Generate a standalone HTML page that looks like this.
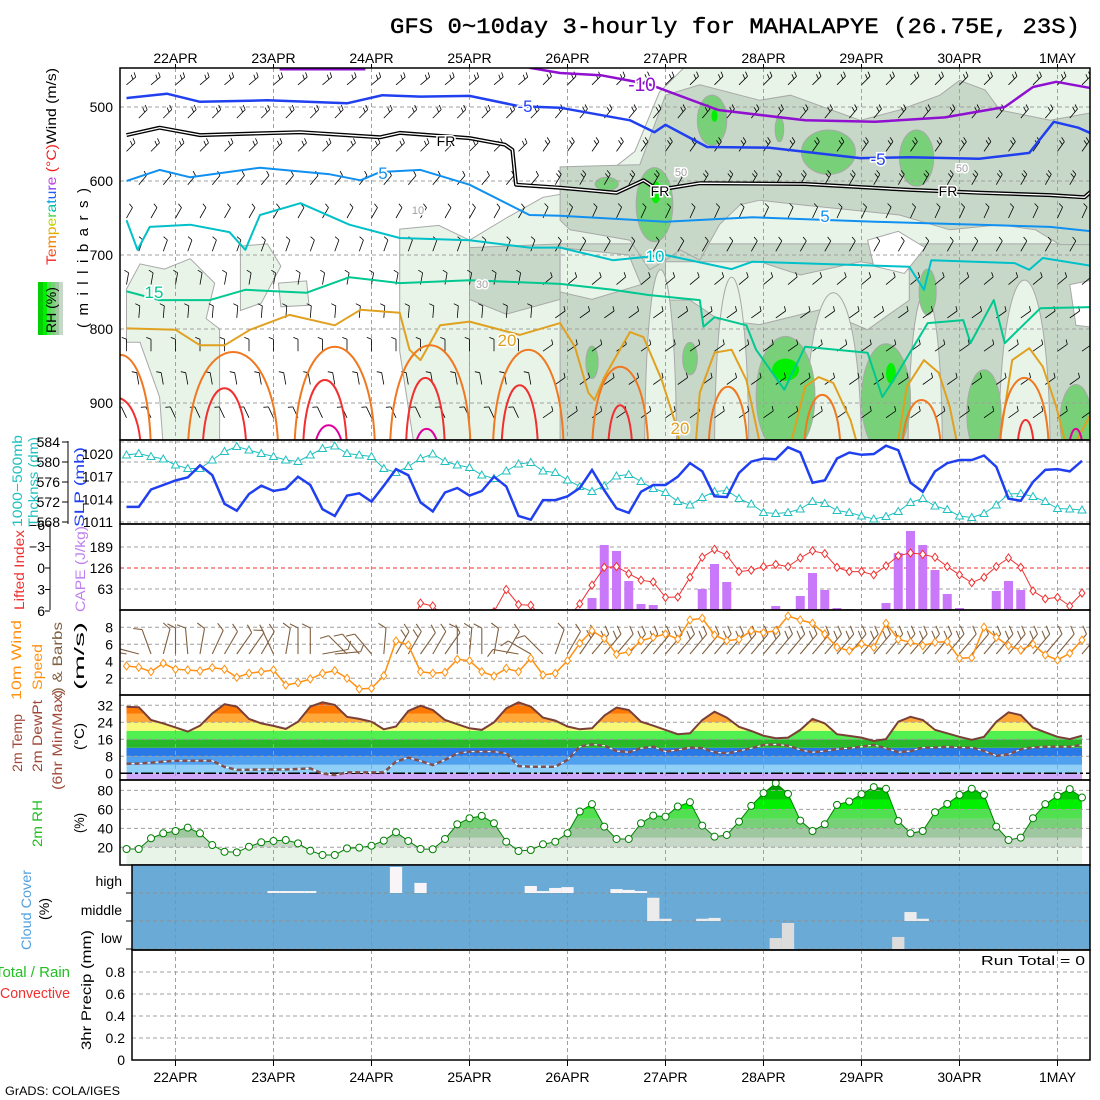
<!DOCTYPE html>
<html><head><meta charset="utf-8">
<style>
html,body{margin:0;padding:0;background:#fff;width:1100px;height:1100px;overflow:hidden}
svg{display:block;font-family:"Liberation Sans",sans-serif}
</style></head>
<body>
<svg id="chart" width="1100" height="1100" viewBox="0 0 1100 1100" xmlns="http://www.w3.org/2000/svg">
<defs>
<clipPath id="cTop"><rect x="120" y="68" width="970" height="372"/></clipPath>
<clipPath id="cSlp"><rect x="120" y="440" width="970" height="84"/></clipPath>
<clipPath id="cCape"><rect x="120" y="524" width="970" height="86"/></clipPath>
<clipPath id="cWind"><rect x="120" y="610" width="970" height="85"/></clipPath>
<clipPath id="cTemp"><rect x="120" y="695" width="970" height="85"/></clipPath>
<clipPath id="cRh"><rect x="120" y="780" width="970" height="85"/></clipPath>
<clipPath id="cLbl"><rect x="0" y="600" width="100" height="97"/></clipPath>
</defs>
<rect x="0" y="0" width="1100" height="1100" fill="#fff"/>
<text x="1080" y="33" text-anchor="end" font-family="Liberation Mono, monospace" font-size="22" textLength="690" lengthAdjust="spacingAndGlyphs" fill="#000" stroke="#000" stroke-width="0.4">GFS 0~10day 3-hourly for MAHALAPYE (26.75E, 23S)</text>

<g font-size="14">
<text transform="translate(56,265) rotate(-90)" textLength="197" lengthAdjust="spacingAndGlyphs"><tspan fill="#f02020">T</tspan><tspan fill="#f05020">e</tspan><tspan fill="#f08000">m</tspan><tspan fill="#e0b000">p</tspan><tspan fill="#c0d000">e</tspan><tspan fill="#40d040">r</tspan><tspan fill="#00c0a0">a</tspan><tspan fill="#00a0e0">t</tspan><tspan fill="#2060f0">u</tspan><tspan fill="#8040f0">r</tspan><tspan fill="#c040e0">e</tspan><tspan fill="#f02020"> (°C)</tspan><tspan fill="#000">Wind (m/s)</tspan></text>
<text transform="translate(88,328) rotate(-90)" font-size="15" textLength="140" lengthAdjust="spacing">(millibars)</text>
<g>
<rect x="38" y="282" width="5" height="53" fill="#00d000"/><rect x="43" y="282" width="4" height="53" fill="#00f000"/><rect x="47" y="282" width="4" height="53" fill="#50e050"/><rect x="51" y="282" width="4" height="53" fill="#78d078"/><rect x="55" y="282" width="4" height="53" fill="#a0c8a0"/><rect x="59" y="282" width="4" height="53" fill="#c8d8c8"/>
<text transform="translate(56,333) rotate(-90)" font-size="14" fill="#000">RH (%)</text>
</g>
<text transform="translate(22,527) rotate(-90)" fill="#20c0c0" textLength="92" lengthAdjust="spacingAndGlyphs">1000−500mb</text>
<text transform="translate(38,527) rotate(-90)" fill="#20c0c0" textLength="90" lengthAdjust="spacingAndGlyphs">Thcknss (dm)</text>
<text transform="translate(84,527) rotate(-90)" fill="#2040f0" textLength="80" lengthAdjust="spacingAndGlyphs">SLP (mb)</text>
<text transform="translate(24,610) rotate(-90)" fill="#f03030" textLength="80" lengthAdjust="spacingAndGlyphs">Lifted Index</text>
<text transform="translate(85,612) rotate(-90)" fill="#c080f0" textLength="86" lengthAdjust="spacingAndGlyphs">CAPE (J/kg)</text>
<text transform="translate(21,700) rotate(-90)" fill="#ff9010" textLength="80" lengthAdjust="spacingAndGlyphs">10m Wind</text>
<text transform="translate(42,690) rotate(-90)" fill="#ff9010" textLength="46" lengthAdjust="spacingAndGlyphs">Speed</text>
<g clip-path="url(#cLbl)"><text transform="translate(62,760) rotate(-90)" fill="#806040" textLength="138" lengthAdjust="spacingAndGlyphs">(6hr Max) &amp; Barbs</text></g>
<text transform="translate(84,690) rotate(-90)" fill="#000" textLength="68" lengthAdjust="spacingAndGlyphs">(m/s)</text>
<text transform="translate(22,772) rotate(-90)" fill="#a04838" textLength="58" lengthAdjust="spacingAndGlyphs">2m Temp</text>
<text transform="translate(42,772) rotate(-90)" fill="#a04838" textLength="72" lengthAdjust="spacingAndGlyphs">2m DewPt</text>
<text transform="translate(62,790) rotate(-90)" fill="#a04838" textLength="100" lengthAdjust="spacingAndGlyphs">(6hr Min/Max)</text>
<text transform="translate(84,750) rotate(-90)" fill="#000" textLength="27" lengthAdjust="spacingAndGlyphs">(°C)</text>
<text transform="translate(42,847) rotate(-90)" fill="#20c020" textLength="47" lengthAdjust="spacingAndGlyphs">2m RH</text>
<text transform="translate(84,833) rotate(-90)" fill="#000" textLength="20" lengthAdjust="spacingAndGlyphs">(%)</text>
<text transform="translate(31,950) rotate(-90)" fill="#50a0e0" textLength="80" lengthAdjust="spacingAndGlyphs">Cloud Cover</text>
<text transform="translate(49,920) rotate(-90)" fill="#000" textLength="22" lengthAdjust="spacingAndGlyphs">(%)</text>
<text x="70" y="977" text-anchor="end" fill="#20c020" font-size="15">Total / Rain</text>
<text x="70" y="998" text-anchor="end" fill="#f03030" font-size="15" textLength="70" lengthAdjust="spacingAndGlyphs">Convective</text>
<text transform="translate(91,1050) rotate(-90)" fill="#000" textLength="120" lengthAdjust="spacingAndGlyphs">3hr Precip (mm)</text>
<text x="122" y="886" text-anchor="end" fill="#000">high</text>
<text x="122" y="915" text-anchor="end" fill="#000">middle</text>
<text x="122" y="943" text-anchor="end" fill="#000">low</text>
<text x="1085" y="965" text-anchor="end" fill="#000" font-size="13" textLength="104" lengthAdjust="spacingAndGlyphs">Run Total = 0</text>
<text x="5" y="1095" fill="#000" font-size="12" textLength="115" lengthAdjust="spacingAndGlyphs">GrADS: COLA/IGES</text>
</g>
<g id="plot"></g>
</svg>
<script>
// ===== data =====
const dayLabels=["22APR","23APR","24APR","25APR","26APR","27APR","28APR","29APR","30APR","1MAY"];
const pressureTicks=[500,600,700,800,900];
const slp=[1013.0,1013.0,1015.3,1015.9,1016.5,1016.9,1018.5,1017.2,1013.4,1012.5,1014.7,1015.8,1015.1,1015.4,1017.0,1015.9,1012.7,1011.8,1014.5,1014.8,1013.7,1015.8,1018.0,1017.2,1013.6,1012.4,1014.9,1015.5,1014.5,1015.1,1017.0,1015.7,1011.8,1011.3,1013.9,1013.9,1014.4,1015.5,1017.9,
1015.2,1012.8,1012.2,1015.0,1015.9,1015.9,1017.0,1018.8,1017.7,1014.4,1014.3,1017.5,1019.0,1019.4,1019.3,1020.9,1020.2,1016.2,1016.5,1019.4,1020.2,1019.9,1020.0,1021.1,1020.5,1016.2,1015.0,1017.7,1018.8,1019.2,1019.2,1019.8,1018.3,1014.1,1013.8,1016.3,1017.9,1018.0,1017.7,1019.1];
const thick=[581.4,581.7,581.1,580.6,579.4,578.7,578.7,580.4,582.1,583.1,582.4,581.7,581.1,580.4,580.1,581.4,582.7,583.2,581.7,581.4,581.1,578.7,577.9,579.1,580.7,581.6,580.1,579.4,578.9,577.4,576.7,578.2,579.6,579.9,578.2,577.9,576.4,575.1,574.1,
575.2,577.2,577.5,576.1,574.7,573.9,572.1,571.4,572.9,574.1,574.3,572.7,571.6,569.9,569.7,569.9,570.6,572.1,571.7,570.3,569.9,569.2,568.6,569.1,570.1,571.9,572.7,571.2,570.5,569.2,568.9,569.7,571.4,573.6,573.7,573.1,572.1,570.7,570.6,570.4];
const slpTicks=[1011,1014,1017,1020];
const thickTicks=[568,572,576,580,584];
const liIndex=[9,9,9,9,9,9,9,9,9,9,9,9,9,9,9,9,9,9,9,9,9,9,9,9,4.9,5.3,7,8,7,7,6.1,3.0,5.1,5.2,7,8,7,5.0,2.4,-0.1,-0.2,0.8,1.7,1.95,4.1,4.05,1.3,-1.5,-2.6,-1.8,0.5,0.3,-0.2,-0.5,-0.2,-1.4,-2.4,-2.0,-0.1,0.5,0.5,0.95,-0.3,-1.7,-2.1,-1.9,-1.5,-0.2,0.95,2.05,1.3,-0.2,-1.4,-0.1,3.2,4.3,4.1,5.3,3.5];
const cape=[0,0,0,0,0,0,0,0,0,0,0,0,0,0,0,0,0,0,0,0,0,0,0,0,0,0,0,0,0,0,0,0,0,0,0,0,0,3,36,195,177,87,18,15,0,0,0,63,138,84,0,0,0,12,0,42,111,60,6,3,0,0,21,171,237,195,120,48,6,0,0,57,87,60,0,0,0,0,0];
const liTicks=[-6,-3,0,3,6];
const capeTicks=[63,126,189];
const wind10=[3.45,3.29,2.78,3.76,3.06,2.98,2.86,3.25,3.06,2.12,2.59,2.78,2.98,1.21,1.48,1.92,2.59,2.90,2.0,0.74,0.82,2.31,6.39,5.92,2.78,2.59,2.70,4.23,4.07,2.78,2.27,3.17,2.78,4.35,2.39,2.59,4.07,6.12,7.60,
6.7,4.82,5.13,6.42,6.82,7.21,6.62,8.86,9.06,7.09,6.42,6.59,7.60,7.37,7.60,9.33,8.86,8.47,7.21,5.65,5.25,6.04,5.65,8.47,6.59,6.24,5.84,6.24,6.31,4.35,4.43,8.01,6.82,5.84,5.33,6.0,4.74,4.15,4.94,6.5];
const barb10Angle=[-80,-75,-20,15,0,-5,10,25,30,35,35,30,-25,10,0,0,80,85,-45,-40,-40,5,30,30,35,30,35,0,5,0,10,30,-80,-60,-45,20,30,35,40,
40,40,40,40,40,40,40,40,40,40,40,40,40,40,40,40,40,40,40,40,40,40,40,40,40,40,40,40,40,40,40,40,40,40,40,40,40,40,40,40];
const windTicks=[2,4,6,8];
const temp2m=[31.3,31.1,25.1,23.5,21.6,19.6,22.4,28.2,32.5,31.4,25.6,23.5,22.3,20.9,24.3,31.4,33.4,32.2,26.6,25.6,24.3,20.7,22.0,29.3,31.8,29.8,25.1,23.1,21.2,20.4,24.0,30.6,33.4,31.4,26.2,24.8,22.0,20.7,21.2,
27.1,30.9,29.8,24.3,22.4,20.4,18.4,18.8,25.1,29.0,26.2,21.9,19.9,17.7,16.5,16.8,20.4,25.6,23.5,18.4,17.6,16.8,15.2,16.1,24.3,26.6,25.1,20.4,18.8,17.2,15.7,17.2,24.3,28.7,27.4,21.5,19.3,17.2,16.1,17.7];
const dew2m=[4.5,4.6,5.0,5.5,5.9,5.9,5.9,5.9,3.0,1.6,1.7,1.8,1.8,1.8,2.0,2.3,-0.1,-0.8,0.4,0.4,0.4,0.4,5.5,7.4,5.8,3.9,6.3,9.4,10.2,10.2,10.2,9.4,3.4,3.1,3.1,3.1,6.3,12.5,13.6,13.0,
10.5,9.9,11.8,12.5,10.2,11.0,12.1,11.8,9.9,9.4,10.5,11.8,13.3,13.6,13.0,11.0,9.9,10.5,11.4,11.8,12.5,13.3,11.8,9.9,10.5,12.1,12.1,12.5,12.1,12.1,10.5,8.3,8.9,11.3,12.1,12.5,12.5,12.5,13.3];
const tempTicks=[0,8,16,24,32];
const rh2m=[18.2,18.2,29.5,34.8,37.2,40.7,34.8,22.4,15.3,14.7,20.6,25.3,26.7,27.7,24.2,16.4,11.9,11.9,18.9,19.6,21.7,27.0,35.9,26.7,18.2,17.9,28.8,44.3,50.7,53.1,45.4,25.9,16.1,17.1,23.2,25.9,34.8,57.7,65.5,41.8,
28.8,28.8,45.4,53.4,52.4,63.0,67.6,42.9,31.2,33.0,47.1,63.7,77.1,87.7,76.4,48.2,37.2,44.3,64.8,68.3,76.1,83.5,81.7,47.8,34.8,37.2,57.0,65.8,75.3,81.7,75.3,41.8,27.7,30.2,50.7,65.5,74.3,81.4,72.5];
const rhTicks=[20,40,60,80];
const cloudHigh=[0,0,0,0,0,0,0,0,0,0,0,0,7,7,7,7,0,0,0,0,0,0,93,0,36,0,0,0,0,0,0,0,0,25,7,18,21,0,0,0,14,11,7,0,0,0,0,0,0,0,0,0,0,0,0,0,0,0,0,0,0,0,0,0,0,0,0,0,0,0,0,0,0,0,0,0,0,0,0];
const cloudMid=[0,0,0,0,0,0,0,0,0,0,0,0,0,0,0,0,0,0,0,0,0,0,0,0,0,0,0,0,0,0,0,0,0,0,0,0,0,0,0,0,0,0,0,83,8,0,0,8,11,0,0,0,0,0,0,0,0,0,0,0,0,0,0,0,32,8,0,0,0,0,0,0,0,0,0,0,0,0,0];
const cloudLow=[0,0,0,0,0,0,0,0,0,0,0,0,0,0,0,0,0,0,0,0,0,0,0,0,0,0,0,0,0,0,0,0,0,0,0,0,0,0,0,0,0,0,0,0,0,0,0,0,0,0,0,0,0,39,93,0,0,0,0,0,0,0,0,43,0,0,0,0,0,0,0,0,0,0,0,0,0,0,0];
const precip=[0,0,0,0,0,0,0,0,0,0,0,0,0,0,0,0,0,0,0,0,0,0,0,0,0,0,0,0,0,0,0,0,0,0,0,0,0,0,0,0,0,0,0,0,0,0,0,0,0,0,0,0,0,0,0,0,0,0,0,0,0,0,0,0,0,0,0,0,0,0,0,0,0,0,0,0,0,0,0];
const precipTicks=[0,0.2,0.4,0.6,0.8];
const isoM10a=[[12.5,449],[19.5,449]];
const isoM10b=[[32.9,447],[35.4,454],[38.7,457],[42.6,469],[48.3,504],[55.4,518],[61.1,520],[66.8,514],[71.7,500],[74,473],[75.9,466],[78.6,474],[80,478]];
const isoM5=[[0,488],[3.3,482],[6,493],[11.5,491],[18,495],[20.9,484],[24,486],[28,485],[32.1,499],[35.4,501],[41.1,518],[43.1,534],[44,524],[47.4,554],[52.5,555],[59.9,569],[63.9,568],[69.6,570],[73.7,562],[75.7,520],[77.7,528],[80,545]];
const isoFR=[[0,538],[2.7,528],[6,538],[14.2,534],[20.7,541],[22.3,535],[28,542],[30.9,551],[31.5,558],[31.8,605],[35.4,609],[40,616],[42.2,599],[43.4,612],[46.8,603],[55.4,604],[64,612],[69.7,616],[75.4,619],[78.2,622],[79.5,603]];
const iso5=[[0,600],[2.7,585],[5.2,595],[10.9,582],[16.6,591],[19.1,599],[20.7,588],[24,585],[28,605],[32.9,646],[35.4,647],[44,655],[51.1,649],[61.1,655],[69.6,659],[75.4,662],[80,670]];
const iso10=[[0,653],[0.9,693],[1.9,662],[5.2,659],[8.4,669],[9.7,693],[10.9,646],[14.2,630],[18.2,659],[22.3,677],[28,680],[32.9,690],[35.4,690],[39.7,707],[44,700],[49.4,719],[51.1,709],[63.9,716],[65.1,747],[65.7,707],[72.5,711],[73.7,720],[74.8,704],[80,718]];
const iso15=[[0,749],[2.7,761],[6.8,761],[9.7,747],[14.7,751],[18.2,730],[22.3,738],[28,734],[35.4,739],[39.7,747],[42.6,754],[46.8,761],[47.1,797],[48,784],[50.6,795],[51.4,828],[53.7,882],[55.4,824],[60.5,832],[61.7,892],[62.6,869],[65.4,792],[68.3,788],[68.9,819],[70.8,761],[71.7,819],[74.6,772],[80,770]];
const iso20=[[0,799],[4,801],[6,822],[8,822],[10.1,801],[13.3,781],[17,795],[19.1,774],[22.3,778],[23.1,828],[24,842],[25.6,795],[28,790],[32.1,808],[35.4,792],[36.6,824],[37.7,886],[38.2,896],[39,865],[41.1,804],[42.2,811],[43.7,869],[44.9,932],[45.3,970],[46.4,970],[46.8,886],[48,832],[49.4,828],[50.6,869],[51.9,970],[54,970],[55.4,878],[56.5,865],[57.7,873],[59.1,923],[59.9,970],[62.8,970],[63.7,878],[65.1,842],[66.3,859],[67.2,905],[68,970],[71.1,970],[72.3,842],[73.7,826],[74.8,851],[75.9,905],[76.9,970],[78.8,913],[80,890]];
const iso25=[[-0.5,835,2.5],[8.7,831,3.7],[17,824,3.3],[24.8,822,3.3],[32.8,828,2.9],[40.3,851,2.3],[49.1,878,1.6],[56.8,889,1.5],[64.9,896,1.6],[73.3,866,2]];
const iso30=[[-0.8,893,2],[8,880,1.8],[16.2,869,1.8],[24.4,866,1.6],[32.1,876,1.5],[40.3,903,1],[73.4,923,0.7]];
const iso35=[[16.5,930,1.2],[24.5,935,1],[77.5,935,0.6]];
const rhLight1=[[0,746],[1.1,712],[3.1,719],[5.2,705],[7.2,738],[6.5,786],[7.6,800],[7.6,960],[3,960],[2.7,892],[1.1,818],[0,818]];
const rhLight2=[[9.3,688],[11.5,685],[12.6,715],[11,765],[9.3,775]];
const rhLight3=[[12.4,738],[14.7,735],[14.9,768],[12.6,770]];
const rhLight4=[[22.3,665],[25.5,660],[28,680],[28,960],[23.5,960],[22.3,830]];
const rhLight5=[[28,680],[31,650],[34,622],[37.5,612],[41.5,560],[43.5,480],[45.5,447],[80,447],[80,960],[28,960]];
const rhGray1=[[35.4,581],[41.9,578],[44,484],[46.8,470],[51.7,491],[54.2,484],[59.9,518],[63.1,504],[66.4,484],[68,464],[70.1,477],[71.3,504],[75.4,518],[80,504],[80,686],[76.2,686],[74.2,666],[71.3,659],[67.2,666],[63.1,646],[59.1,639],[55,632],[51.7,626],[50.1,632],[48.4,659],[46.8,707],[45.2,693],[44,707],[42.7,720],[41.1,680],[38.7,673],[36.2,666],[35.4,653]];
const rhGray2=[[35.4,685],[80,685],[80,960],[35.4,960]];
const rhGray3=[[28,690],[35.4,685],[35.4,760],[31,780],[28,760]];
const rhLightMid=[[44,709],[51.7,709],[55,727],[59.9,709],[63.9,720],[63.9,761],[60.5,801],[56.6,774],[51.7,794],[48.4,788],[46,761],[44,761]];
const rhLightMid2=[[35.4,690],[41,700],[42,740],[38,760],[35.4,750]];
const rhLightArches=[[43.6,720,1.3],[49.4,730,1.4],[57.7,751,2.3],[65.2,751,1.4],[73.3,734,2.1]];
const rhWhite1=[[60.5,680],[63,668],[65.2,690],[63.5,725],[61,715]];
const rhWhite2=[[77,740],[80,730],[80,800],[77.5,795]];
const rhGreen=[[47.8,518,1.2,34],[53.3,530,0.35,17],[57.3,561,2.2,30],[64.5,569,1.4,38],[39.2,604,0.95,9],[43.1,632,1.5,50],[38,845,0.5,22],[46,840,0.6,22],[53.8,890,2.4,80],[62,895,2,75],[65.4,750,0.7,31],[70,915,1.4,60],[77.5,925,1.3,50]];
const rhBright=[[53.8,855,1.1,15],[62.4,860,0.4,14],[43.2,615,0.4,15],[48,512,0.25,8]];
const barbRowsP=[470,515,560,605,650,695,740,785,830,875,920];
const barbDirEarly=[50,45,45,40,30,20,10,5,0,-10,-25];
const barbDirLate=[45,40,35,30,25,30,50,55,55,55,55];
const barbTicksEarly=[2,2,2,1,1,1,1,1,1,1,1];
const barbTicksLate=[2,2,2,2,1,1,1,1,1,1,1];

// ===== scales =====
const NS='http://www.w3.org/2000/svg';
const plot=document.getElementById('plot');
function X(i){return 126.5+12.25*i;}
function dayX(d){return 175.5+98*d;}
function Yp(p){return 107+(p-500)*0.74;}
function Ys(v){return 522-(v-1011)*7.556;}
function Yt(v){return 522-(v-568)*5;}
function Yli(v){return 568+v*7.17;}
function Yc(v){return 610-v/3;}
function Yw(v){return 695.3-v*8.5;}
function YT(v){return 773.3-v*2.125;}
function Yr(v){return 847.3-(v-20)*0.948;}
function Ypr(v){return 1060-v*110;}
function mk(tag,parent,attrs){const e=document.createElementNS(NS,tag);for(const k in attrs)e.setAttribute(k,attrs[k]);parent.appendChild(e);return e;}
function txt(parent,x,y,s,attrs){const t=mk('text',parent,Object.assign({x:x,y:y,'font-size':14,fill:'#000'},attrs||{}));t.textContent=s;return t;}
function poly(pts){return pts.map((q,k)=>(k?'L':'M')+X(q[0]).toFixed(1)+' '+Yp(q[1]).toFixed(1)).join(' ');}
function linePath(arr,fy){return arr.map((v,i)=>(i?'L':'M')+X(i).toFixed(1)+' '+fy(v).toFixed(1)).join(' ');}
function arch(t,p,hw){const yb=Yp(975),yt=Yp(p),cy=yb+(yt-yb)/0.75;return 'M'+X(t-hw)+' '+yb+' C'+X(t-hw)+' '+cy+' '+X(t+hw)+' '+cy+' '+X(t+hw)+' '+yb+' Z';}
function hgrid(parent,y,x0,x1,col){return mk('line',parent,{x1:x0,x2:x1,y1:y,y2:y,stroke:col||'#a0a0a0','stroke-width':1,'stroke-dasharray':'4,3'});}
function vgrids(parent,y0,y1){for(let d=0;d<dayLabels.length;d++){const l=mk('line',parent,{x1:dayX(d),x2:dayX(d),y1:y0,y2:y1,stroke:'#a0a0a0','stroke-width':1,'stroke-dasharray':'4,3'});

}}
function frame(x,y,w,h,name){const r=mk('rect',plot,{x:x,y:y,width:w,height:h,fill:'none',stroke:'#000','stroke-width':1.5});

}

for(let d=0;d<dayLabels.length;d++){
 const a=txt(plot,dayX(d),63,dayLabels[d],{'text-anchor':'middle'});
 
 
 const b=txt(plot,dayX(d),1082,dayLabels[d],{'text-anchor':'middle'});
 
 
 mk('line',plot,{x1:dayX(d),x2:dayX(d),y1:64,y2:70,stroke:'#000'});
}

// ===== top panel =====
const gTop=mk('g',plot,{'clip-path':'url(#cTop)'});


function shade(pts,fill,name){const e=mk('path',gTop,{d:poly(pts)+' Z',fill:fill,stroke:'#a8a8a8','stroke-width':1});

}
shade(rhLight5,'#e8f4e8','rh-shade-light');
shade(rhLight1,'#e8f4e8','rh-shade-light');
shade(rhLight2,'#e8f4e8','rh-shade-light');
shade(rhLight3,'#e8f4e8','rh-shade-light');
shade(rhLight4,'#e8f4e8','rh-shade-light');
shade(rhGray2,'#c8d8c8','rh-shade-gray');
shade(rhGray1,'#c8d8c8','rh-shade-gray');
shade(rhGray3,'#c8d8c8','rh-shade-gray');
shade(rhLightMid,'#e8f4e8','rh-shade-light');
shade(rhLightMid2,'#e8f4e8','rh-shade-light');
rhLightArches.forEach(a=>{const e=mk('path',gTop,{d:arch(a[0],a[1],a[2]),fill:'#e8f4e8',stroke:'#a8a8a8','stroke-width':1});

});
shade(rhWhite1,'#ffffff','rh-clear-area');
shade(rhWhite2,'#ffffff','rh-clear-area');
rhGreen.forEach(b=>{const e=mk('ellipse',gTop,{cx:X(b[0]),cy:Yp(b[1]),rx:b[2]*12.25,ry:b[3]*0.74,fill:'#78d078',stroke:'#a8a8a8','stroke-width':1});

});
rhBright.forEach(b=>{const e=mk('ellipse',gTop,{cx:X(b[0]),cy:Yp(b[1]),rx:b[2]*12.25,ry:b[3]*0.74,fill:'#00f000'});

});
pressureTicks.forEach(p=>{const l=hgrid(gTop,Yp(p),120,1090);


const t=txt(plot,113,Yp(p)+5,String(p),{'text-anchor':'end'});

});
vgrids(gTop,68,440);
barbRowsP.forEach((p,r)=>{
 for(let i=(r%2);i<79;i+=2){
  const late=i>=34;
  const a=(late?barbDirLate[r]:barbDirEarly[r])*Math.PI/180;
  const nt=late?barbTicksLate[r]:barbTicksEarly[r];
  const x0=X(i),y0=Yp(p),L=12;
  const x1=x0+L*Math.sin(a),y1=y0-L*Math.cos(a);
  let d='M'+x0.toFixed(1)+' '+y0.toFixed(1)+' L'+x1.toFixed(1)+' '+y1.toFixed(1);
  for(let k=0;k<nt;k++){const f=1-k*0.3;const bx=x0+L*f*Math.sin(a),by=y0-L*f*Math.cos(a);const ta=a-1.2;d+=' M'+bx.toFixed(1)+' '+by.toFixed(1)+' L'+(bx+5*Math.sin(ta)).toFixed(1)+' '+(by-5*Math.cos(ta)).toFixed(1);}
  const b=mk('path',gTop,{d:d,stroke:'#000','stroke-width':0.8,fill:'none'});
  
  
 }
});
function iso(pts,col,w,name){const e=mk('path',gTop,{d:poly(pts),fill:'none',stroke:col,'stroke-width':w,'stroke-linejoin':'round'});

return e;}
iso(isoM10a,'#9010d0',2.5,'isotherm-minus10');
iso(isoM10b,'#9010d0',2.5,'isotherm-minus10');
iso(isoM5,'#2040f0',2.5,'isotherm-minus5');
iso(isoFR,'#000',4,'freezing-level');
iso(isoFR,'#fff',1.3,'freezing-level-inner');
iso(iso5,'#1090f0',2,'isotherm-5');
iso(iso10,'#00c0c8',2,'isotherm-10');
iso(iso15,'#00c890',2,'isotherm-15');
iso(iso20,'#e0a020',2,'isotherm-20');
iso25.forEach(a=>{const e=mk('path',gTop,{d:arch(a[0],a[1],a[2]),fill:'none',stroke:'#f07820','stroke-width':2});

});
iso30.forEach(a=>{const e=mk('path',gTop,{d:arch(a[0],a[1],a[2]),fill:'none',stroke:'#f03030','stroke-width':2});

});
iso35.forEach(a=>{const e=mk('path',gTop,{d:arch(a[0],a[1],a[2]),fill:'none',stroke:'#e000a0','stroke-width':2});

});
function clab(x,y,s,col,fs){const t=txt(gTop,x,y,s,{fill:col,'font-size':fs,'text-anchor':'middle',stroke:'#fff','stroke-width':3,'paint-order':'stroke'});

}
clab(642,91,'-10','#9010d0',19);clab(525,112,'-5','#2040f0',17);clab(878,165,'-5','#2040f0',17);
clab(446,146,'FR','#000',14);clab(660,196,'FR','#000',14);clab(948,196,'FR','#000',14);
clab(383,179,'5','#1090f0',17);clab(825,222,'5','#1090f0',17);clab(655,262,'10','#00c0c8',17);
clab(154,298,'15','#00c890',17);clab(507,346,'20','#e0a020',17);clab(680,434,'20','#e0a020',17);
clab(681,176,'50','#a0a0a0',11);clab(962,172,'50','#a0a0a0',11);clab(482,288,'30','#a0a0a0',11);clab(418,214,'10','#a0a0a0',11);
frame(120,68,970,372,'upper-air-frame');

// ===== SLP / thickness =====
const gS=mk('g',plot,{'clip-path':'url(#cSlp)'});


thickTicks.forEach(v=>{const l=hgrid(gS,Yt(v),120,1090);


const t=txt(plot,60,Yt(v)+5,String(v),{'text-anchor':'end'});


mk('line',plot,{x1:62,x2:68,y1:Yt(v),y2:Yt(v),stroke:'#000'});});
mk('line',plot,{x1:68,x2:68,y1:441,y2:524,stroke:'#000'});
slpTicks.forEach(v=>{const t=txt(plot,113,Ys(v)+5,String(v),{'text-anchor':'end'});

});
vgrids(gS,440,524);
const thL=mk('path',gS,{d:linePath(thick,Yt),fill:'none',stroke:'#20c0c0','stroke-width':1});


thick.forEach((v,i)=>{const x=X(i),y=Yt(v);const m=mk('path',gS,{d:'M'+x+' '+(y-4)+' L'+(x+4)+' '+(y+3)+' L'+(x-4)+' '+(y+3)+' Z',fill:'#fff',stroke:'#20c0c0','stroke-width':1});

});
const slL=mk('path',gS,{d:linePath(slp,Ys),fill:'none',stroke:'#2040f0','stroke-width':2.5});


frame(120,440,970,84,'slp-frame');

// ===== CAPE / LI =====
const gC=mk('g',plot,{'clip-path':'url(#cCape)'});


capeTicks.forEach(v=>{if(v!==126){const l=hgrid(gC,Yc(v),120,1090);

}
const t=txt(plot,113,Yc(v)+5,String(v),{'text-anchor':'end'});

});
const zl=hgrid(gC,Yli(0),120,1090,'#f03030');


liTicks.forEach(v=>{const t=txt(plot,45,Yli(v)+5,String(v).replace('-','−'),{'text-anchor':'end'});


mk('line',plot,{x1:45,x2:50,y1:Yli(v),y2:Yli(v),stroke:'#000'});});
mk('line',plot,{x1:50,x2:50,y1:524,y2:610,stroke:'#000'});
vgrids(gC,524,610);
cape.forEach((v,i)=>{if(v>0){const r=mk('rect',gC,{x:X(i)-4.5,y:Yc(v),width:9,height:610-Yc(v),fill:'#c878f8'});

}});
const liL=mk('path',gC,{d:linePath(liIndex,Yli),fill:'none',stroke:'#f03030','stroke-width':1});


liIndex.forEach((v,i)=>{if(v<=6.2){const x=X(i),y=Yli(v);const m=mk('path',gC,{d:'M'+x+' '+(y-4)+' L'+(x+3)+' '+y+' L'+x+' '+(y+4)+' L'+(x-3)+' '+y+' Z',fill:'#fff',stroke:'#f03030','stroke-width':1});

}});
frame(120,524,970,86,'cape-frame');

// ===== 10m wind =====
const gW=mk('g',plot,{'clip-path':'url(#cWind)'});


windTicks.forEach(v=>{const l=hgrid(gW,Yw(v),120,1090);


const t=txt(plot,113,Yw(v)+5,String(v),{'text-anchor':'end'});

});
vgrids(gW,610,695);
barb10Angle.forEach((ang,i)=>{
 const a=ang*Math.PI/180,x0=X(i),y0=654,L=26;
 const x1=x0+L*Math.sin(a),y1=y0-L*Math.cos(a);
 const nt=wind10[i]>5?2:1;
 let d='M'+x0.toFixed(1)+' '+y0+' L'+x1.toFixed(1)+' '+y1.toFixed(1);
 for(let k=0;k<nt;k++){const f=1-k*0.25;const bx=x0+L*f*Math.sin(a),by=y0-L*f*Math.cos(a),ta=a-1.1;d+=' M'+bx.toFixed(1)+' '+by.toFixed(1)+' L'+(bx+9*Math.sin(ta)).toFixed(1)+' '+(by-9*Math.cos(ta)).toFixed(1);}
 const b=mk('path',gW,{d:d,stroke:'#806040','stroke-width':1.1,fill:'none'});
 
 
});
const wL=mk('path',gW,{d:linePath(wind10,Yw),fill:'none',stroke:'#ff9010','stroke-width':1.5});


wind10.forEach((v,i)=>{const x=X(i),y=Yw(v);const m=mk('path',gW,{d:'M'+x+' '+(y-4)+' L'+(x+3)+' '+y+' L'+x+' '+(y+4)+' L'+(x-3)+' '+y+' Z',fill:'#fff',stroke:'#ff9010','stroke-width':1});

});
frame(120,610,970,85,'wind-frame');

// ===== temperature =====
const gT=mk('g',plot,{'clip-path':'url(#cTemp)'});


const defs=document.querySelector('defs');
const cpT=mk('clipPath',defs,{id:'cTempArea'});
mk('path',cpT,{d:'M'+X(0)+' 780 '+temp2m.map((v,i)=>'L'+X(i).toFixed(1)+' '+YT(v).toFixed(1)).join(' ')+' L'+X(78)+' 780 Z'});
const tBands=[[-10,0,'#d0a8f8'],[0,4,'#90d0f8'],[4,8,'#50a0f0'],[8,12,'#2878e8'],[12,16,'#28b828'],[16,20,'#50f050'],[20,24,'#f8f878'],[24,28,'#ffa838'],[28,32,'#ff7800'],[32,45,'#ff5000']];
const gTB=mk('g',gT,{'clip-path':'url(#cTempArea)'});
tBands.forEach(b=>{const r=mk('rect',gTB,{x:120,y:YT(b[1]),width:970,height:YT(b[0])-YT(b[1]),fill:b[2]});

});
tempTicks.forEach(v=>{if(v>0){const l=hgrid(gT,YT(v),120,1090);

}
const t=txt(plot,113,YT(v)+5,String(v),{'text-anchor':'end'});

});
const z0=mk('line',gT,{x1:120,x2:1090,y1:YT(0),y2:YT(0),stroke:'#000','stroke-width':1.5,'stroke-dasharray':'12,3,3,3'});


vgrids(gT,695,780);
mk('path',gT,{d:linePath(dew2m,YT),fill:'none',stroke:'#fff','stroke-width':1});
const dL=mk('path',gT,{d:linePath(dew2m,YT),fill:'none',stroke:'#805050','stroke-width':2.5,'stroke-dasharray':'5,3'});


const tL=mk('path',gT,{d:linePath(temp2m,YT),fill:'none',stroke:'#7a4038','stroke-width':2});


frame(120,695,970,85,'temp-frame');

// ===== RH =====
const gR=mk('g',plot,{'clip-path':'url(#cRh)'});


const cpR=mk('clipPath',defs,{id:'cRhArea'});
mk('path',cpR,{d:'M'+X(0)+' 865 '+rh2m.map((v,i)=>'L'+X(i).toFixed(1)+' '+Yr(v).toFixed(1)).join(' ')+' L'+X(78)+' 865 Z'});
const rBands=[[0,20,'#e8f4e8'],[20,30,'#c8d8c8'],[30,40,'#a0c8a0'],[40,50,'#78d078'],[50,60,'#50e050'],[60,70,'#00f000'],[70,80,'#00c800'],[80,100,'#00a000']];
const gRB=mk('g',gR,{'clip-path':'url(#cRhArea)'});
rBands.forEach(b=>{const r=mk('rect',gRB,{x:120,y:Yr(b[1]),width:970,height:Yr(b[0])-Yr(b[1]),fill:b[2]});

});
rhTicks.forEach(v=>{const l=hgrid(gR,Yr(v),120,1090);


const t=txt(plot,113,Yr(v)+5,String(v),{'text-anchor':'end'});

});
vgrids(gR,780,865);
const rL=mk('path',gR,{d:linePath(rh2m,Yr),fill:'none',stroke:'#008000','stroke-width':1});


rh2m.forEach((v,i)=>{const c=mk('circle',gR,{cx:X(i),cy:Yr(v),r:3.5,fill:'#fff',stroke:'#008000','stroke-width':1});

});
frame(120,780,970,85,'rh-frame');

// ===== cloud =====
const cbg=mk('rect',plot,{x:132,y:865,width:958,height:85,fill:'#6aaad6'});


[893,921,949].forEach(y=>{const l=hgrid(plot,y,132,1090,'#909090');


mk('line',plot,{x1:126,x2:132,y1:y,y2:y,stroke:'#000'});});
for(let d=0;d<dayLabels.length;d++){const l=mk('line',plot,{x1:dayX(d),x2:dayX(d),y1:865,y2:950,stroke:'#909090','stroke-dasharray':'4,3'});

}
function cloudBars(arr,base,col,name){arr.forEach((v,i)=>{if(v>0){const h=v/100*28;const r=mk('rect',plot,{x:X(i)-6.1,y:base-h,width:12.25,height:h,fill:col});

}});}
cloudBars(cloudHigh,893,'#f8f4f8','high-cloud-bar');
cloudBars(cloudMid,921,'#ececec','mid-cloud-bar');
cloudBars(cloudLow,949,'#dcdcdc','low-cloud-bar');
frame(132,865,958,85,'cloud-frame');

// ===== precip =====
precipTicks.forEach(v=>{if(v>0){const l=hgrid(plot,Ypr(v),132,1090);

}
const t=txt(plot,125,Ypr(v)+5,String(v),{'text-anchor':'end'});

});
for(let d=0;d<dayLabels.length;d++){const l=mk('line',plot,{x1:dayX(d),x2:dayX(d),y1:950,y2:1060,stroke:'#a0a0a0','stroke-dasharray':'4,3'});


mk('line',plot,{x1:dayX(d),x2:dayX(d),y1:1060,y2:1066,stroke:'#000'});}
precip.forEach((v,i)=>{if(v>0){const r=mk('rect',plot,{x:X(i)-5,y:Ypr(v),width:10,height:1060-Ypr(v),fill:'#20c020'});

}});
frame(132,950,958,110,'precip-frame');
</script>
</body></html>
